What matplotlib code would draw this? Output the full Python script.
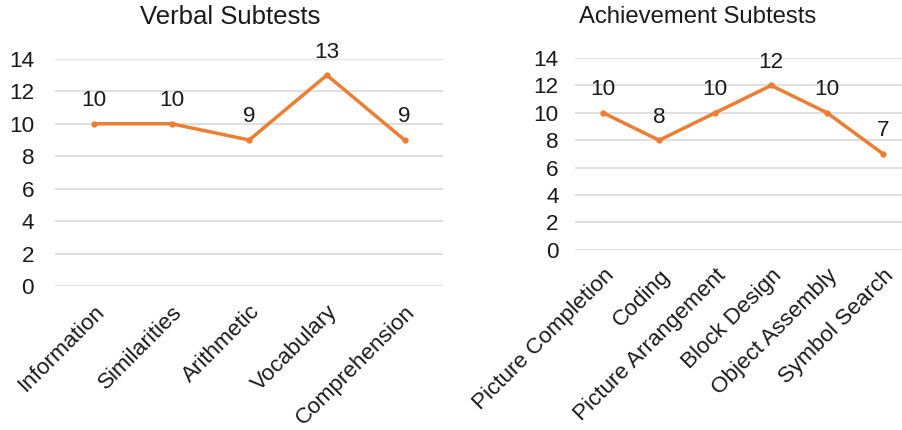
import matplotlib
matplotlib.use("Agg")
import matplotlib.pyplot as plt
from matplotlib.transforms import ScaledTranslation

plt.rcParams["font.family"] = ["Liberation Sans", "DejaVu Sans"]

verbal_labels = ["Information", "Similarities", "Arithmetic", "Vocabulary", "Comprehension"]
verbal_scores = [10, 10, 9, 13, 9]

achieve_labels = ["Picture Completion", "Coding", "Picture Arrangement",
                  "Block Design", "Object Assembly", "Symbol Search"]
achieve_scores = [10, 8, 10, 12, 10, 7]

y_ticks = [0, 2, 4, 6, 8, 10, 12, 14]

LINE_COLOR = "#ED7D31"
TEXT_COLOR = "#1a1a1a"
GRID_COLOR = "#d9d9d9"
FS = 16.2

fig = plt.figure(figsize=(9.03, 4.30), dpi=100)
ax_left = fig.add_axes([0.061, 0.335, 0.430, 0.528])
ax_right = fig.add_axes([0.637, 0.419, 0.372, 0.446])


def draw_panel(ax, labels, scores, title, ypad, title_x, title_fs):
    x = list(range(len(labels)))
    ax.plot(x, scores, color=LINE_COLOR, linewidth=2.5, marker="o",
            markersize=3.5, solid_joinstyle="miter", zorder=3)
    for xi, v in zip(x, scores):
        ax.annotate(str(v), (xi, v), xytext=(0, 9), textcoords="offset points",
                    ha="center", va="bottom", fontsize=FS, color=TEXT_COLOR)
    ax.set_xlim(-0.5, len(labels) - 0.5)
    ax.set_ylim(0, 14)
    ax.set_yticks(y_ticks)
    ax.set_xticks(x)
    ax.set_xticklabels(labels, rotation=45, ha="right", rotation_mode="anchor",
                       fontsize=FS, color=TEXT_COLOR)
    shift = ScaledTranslation(-6 / 72, 0, fig.dpi_scale_trans)
    for lab in ax.get_xticklabels():
        lab.set_transform(lab.get_transform() + shift)
    ax.tick_params(axis="y", labelsize=FS, labelcolor=TEXT_COLOR, length=0, pad=ypad)
    ax.tick_params(axis="x", length=0, pad=11)
    ax.grid(axis="y", color=GRID_COLOR, linewidth=1.2)
    ax.set_axisbelow(True)
    for s in ax.spines.values():
        s.set_visible(False)
    ax.set_title(title, fontsize=title_fs, color=TEXT_COLOR, pad=25, x=title_x)
    ax.patch.set_alpha(0)


draw_panel(ax_left, verbal_labels, verbal_scores, "Verbal Subtests", 15, 0.45, 18.5)
draw_panel(ax_right, achieve_labels, achieve_scores, "Achievement Subtests", 12, 0.363, 17.2)

fig.savefig("out.png", dpi=100)
